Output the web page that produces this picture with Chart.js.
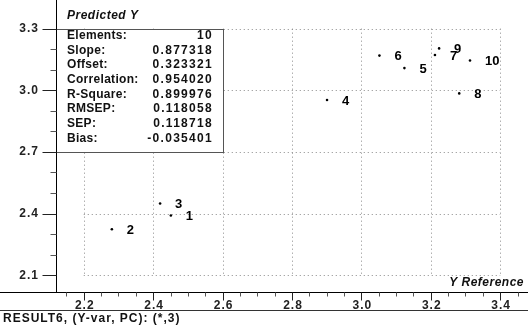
<!DOCTYPE html>
<html>
<head>
<meta charset="utf-8">
<script src="https://cdn.jsdelivr.net/npm/chart.js@4/dist/chart.umd.min.js"></script>
<style>
html,body{margin:0;padding:0;background:#fff;}
#wrap{width:528px;height:330px;}
</style>
</head>
<body>
<div id="wrap"><canvas id="c" width="528" height="330"></canvas></div>
<script>
// ---- data ----
const pointLabels = ['1','2','3','4','5','6','7','8','9','10'];
const refValues   = [2.451, 2.281, 2.420, 2.901, 3.124, 3.052, 3.212, 3.282, 3.224, 3.313];
const predValues  = [2.391, 2.324, 2.449, 2.953, 3.108, 3.169, 3.172, 2.985, 3.204, 3.145];
const xTicks = [2.2, 2.4, 2.6, 2.8, 3.0, 3.2, 3.4];
const xTickLabels = ['2.2','2.4','2.6','2.8','3.0','3.2','3.4'];
const yTicks = [2.1, 2.4, 2.7, 3.0, 3.3];
const yTickLabels = ['2.1','2.4','2.7','3.0','3.3'];
const statNames  = ['Elements:','Slope:','Offset:','Correlation:','R-Square:','RMSEP:','SEP:','Bias:'];
const statValues = ['10','0.877318','0.323321','0.954020','0.899976','0.118058','0.118718','-0.035401'];
const yTitle = 'Predicted Y';
const xTitle = 'Y Reference';
const footer = 'RESULT6, (Y-var, PC): (*,3)';

const FONT = '"Liberation Sans", Arial, sans-serif';

const decor = {
  id: 'decor',
  beforeDatasetsDraw(chart) {
    const ctx = chart.ctx, xs = chart.scales.x, ys = chart.scales.y, ca = chart.chartArea;
    const W = chart.width;
    ctx.save();
    const gx0 = xs.getPixelForValue(xTicks[0]), gx1 = xs.getPixelForValue(xTicks[xTicks.length-1]);
    const gy0 = ys.getPixelForValue(yTicks[0]), gy1 = ys.getPixelForValue(yTicks[yTicks.length-1]);
    // dotted grid
    ctx.strokeStyle = '#8a8a8a';
    ctx.lineWidth = 1;
    ctx.setLineDash([1,3]);
    xTicks.forEach(v => {
      const x = Math.round(xs.getPixelForValue(v)) + 0.5;
      ctx.beginPath(); ctx.moveTo(x, gy1); ctx.lineTo(x, gy0); ctx.stroke();
    });
    yTicks.forEach(v => {
      const y = Math.round(ys.getPixelForValue(v)) + 0.5;
      ctx.beginPath(); ctx.moveTo(gx0, y); ctx.lineTo(gx1, y); ctx.stroke();
    });
    ctx.setLineDash([]);

    // stats box
    const bx0 = Math.round(ca.left) + 0.5, bx1 = Math.round(xs.getPixelForValue(2.6)) + 0.5;
    const by0 = Math.round(ys.getPixelForValue(3.3)) + 0.5, by1 = Math.round(ys.getPixelForValue(2.7)) + 0.5;
    ctx.fillStyle = '#fff';
    ctx.fillRect(bx0, by0, bx1 - bx0, by1 - by0);
    ctx.strokeStyle = '#555';
    ctx.strokeRect(bx0, by0, bx1 - bx0, by1 - by0);
    ctx.fillStyle = '#111';
    ctx.font = 'bold 12px ' + FONT;
    ctx.textBaseline = 'middle';
    statNames.forEach((n, i) => {
      const y = 35.5 + i * 14.7;
      ctx.textAlign = 'left';
      try { ctx.letterSpacing = '0.3px'; } catch(e) {}
      ctx.fillText(n, 67, y);
      ctx.textAlign = 'right';
      try { ctx.letterSpacing = '1.3px'; } catch(e) {}
      ctx.fillText(statValues[i], 213, y);
    });

    // axes lines
    ctx.strokeStyle = '#000';
    const axX = Math.round(ca.left) + 0.5, axY = Math.round(ca.bottom) + 0.5;
    ctx.beginPath(); ctx.moveTo(axX, 0); ctx.lineTo(axX, axY); ctx.stroke();
    ctx.beginPath(); ctx.moveTo(0, axY); ctx.lineTo(W, axY); ctx.stroke();
    // footer separator
    ctx.strokeStyle = '#333';
    ctx.beginPath(); ctx.moveTo(0, 310.5); ctx.lineTo(W, 310.5); ctx.stroke();

    // x ticks (minor every 0.05)
    for (let k = 43; k <= 69; k++) {
      const v = k * 0.05;
      const x = Math.round(xs.getPixelForValue(v)) + 0.5;
      if (x > W) continue;
      const major = (k % 4 === 0);
      ctx.strokeStyle = major ? '#222' : '#555';
      ctx.beginPath(); ctx.moveTo(x, axY); ctx.lineTo(x, axY + (major ? 8 : 4)); ctx.stroke();
    }
    // y ticks (minor every 0.1)
    for (let k = 21; k <= 33; k++) {
      const v = k * 0.1;
      const y = Math.round(ys.getPixelForValue(v)) + 0.5;
      const major = ((k - 21) % 3 === 0);
      ctx.strokeStyle = major ? '#222' : '#555';
      ctx.beginPath(); ctx.moveTo(axX - (major ? 14 : 6), y); ctx.lineTo(axX, y); ctx.stroke();
    }
    // tick labels
    ctx.fillStyle = '#222';
    ctx.font = 'bold 12px ' + FONT;
    try { ctx.letterSpacing = '1px'; } catch(e) {}
    ctx.textAlign = 'center';
    xTicks.forEach((v, i) => ctx.fillText(xTickLabels[i], xs.getPixelForValue(v) + 1, 306));
    ctx.textAlign = 'right';
    yTicks.forEach((v, i) => ctx.fillText(yTickLabels[i], 39, ys.getPixelForValue(v)));

    // titles
    ctx.fillStyle = '#111';
    ctx.font = 'italic bold 12px ' + FONT;
    try { ctx.letterSpacing = '0.5px'; } catch(e) {}
    ctx.textAlign = 'left';
    ctx.fillText(yTitle, 67, 16);
    ctx.textAlign = 'right';
    ctx.fillText(xTitle, 524, 283);
    ctx.font = 'bold 12px ' + FONT;
    try { ctx.letterSpacing = '1px'; } catch(e) {}
    ctx.textAlign = 'left';
    ctx.fillText(footer, 3, 319);
    ctx.restore();
  },
  afterDatasetsDraw(chart) {
    const ctx = chart.ctx;
    const meta = chart.getDatasetMeta(0);
    ctx.save();
    ctx.fillStyle = '#000';
    ctx.font = 'bold 13px ' + FONT;
    ctx.textAlign = 'left';
    ctx.textBaseline = 'middle';
    meta.data.forEach((pt, i) => {
      ctx.fillText(pointLabels[i], pt.x + 15, pt.y + 1);
    });
    ctx.restore();
  }
};

new Chart(document.getElementById('c'), {
  type: 'scatter',
  data: {
    datasets: [{
      data: refValues.map((x, i) => ({x: x, y: predValues[i]})),
      backgroundColor: '#000',
      borderColor: '#000',
      pointRadius: 1.3,
      pointBorderWidth: 0
    }]
  },
  options: {
    responsive: false,
    devicePixelRatio: 1,
    animation: false,
    layout: { padding: { left: 56, right: 0, top: 0, bottom: 38 } },
    plugins: { legend: { display: false }, tooltip: { enabled: false } },
    scales: {
      x: { type: 'linear', display: false, min: 2.12, max: 3.4686 },
      y: { type: 'linear', display: false, min: 2.0184, max: 3.42 }
    }
  },
  plugins: [decor]
});
</script>
</body>
</html>
